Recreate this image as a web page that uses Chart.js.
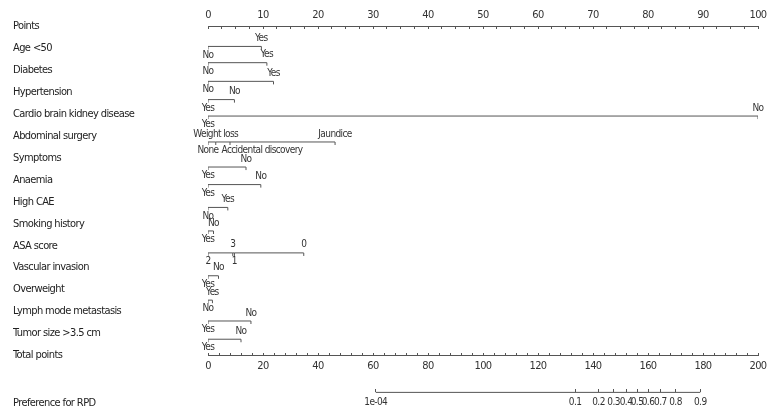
<!DOCTYPE html>
<html>
<head>
<meta charset="utf-8">
<script src="https://cdn.jsdelivr.net/npm/chart.js@4.4.1/dist/chart.umd.min.js"></script>
<style>
  body { margin: 0; background: #fff; }
</style>
</head>
<body>
<canvas id="nomo" width="780" height="420"></canvas>
<script>
const rowNames = [
  "Points", "Age <50", "Diabetes", "Hypertension", "Cardio brain kidney disease",
  "Abdominal surgery", "Symptoms", "Anaemia", "High CAE", "Smoking history",
  "ASA score", "Vascular invasion", "Overweight", "Lymph mode metastasis",
  "Tumor size >3.5 cm", "Total points", "Preference for RPD"
]

const pointsTicks = [0, 10, 20, 30, 40, 50, 60, 70, 80, 90, 100]
const totalTicks = [0, 20, 40, 60, 80, 100, 120, 140, 160, 180, 200]

// probability ticks and where they sit on the total points scale
const prefLabels = ["1e-04", "0.1", "0.2", "0.3", "0.4", "0.5", "0.6", "0.7", "0.8", "0.9"]
const prefTotal = [61, 133.5, 142, 147.5, 152, 156, 160, 164.5, 170, 179]

// one entry per drawn line, levels sorted by points
const levelNames = [
  ["No", "Yes"],
  ["No", "Yes"],
  ["No", "Yes"],
  ["Yes", "No"],
  ["Yes", "No"],
  ["None", "Weight loss", "Accidental discovery", "Jaundice"],
  ["Yes", "No"],
  ["Yes", "No"],
  ["No", "Yes"],
  ["Yes", "No"],
  ["2", "3", "1", "0"],
  ["Yes", "No"],
  ["No", "Yes"],
  ["Yes", "No"],
  ["Yes", "No"],
]
const levelPoints = [
  [0, 9.7],
  [0, 10.7],
  [0, 11.9],
  [0, 4.8],
  [0, 100],
  [0, 1.4, 4.0, 23.1],
  [0, 6.9],
  [0, 9.6],
  [0, 3.6],
  [0, 1.0],
  [0, 4.5, 4.8, 17.4],
  [0, 1.9],
  [0, 0.8],
  [0, 7.8],
  [0, 6.0],
]

// layout (in label rows)
const segmentRow = [0.93, 1.67, 2.52, 3.35, 4.1, 5.28, 6.42, 7.22, 8.26, 9.33, 10.33, 11.37, 12.48, 13.43, 14.26]
const labelRow = rowNames.map((n, i) => (i < 16 ? i : 17.15))
const totalRow = 15
const prefRow = 16.68

const font = "'Liberation Sans Narrow', 'DejaVu Sans Condensed', sans-serif"
const ink = "#333"
const lineColor = "#555"

Chart.defaults.font.family = font
Chart.defaults.color = ink

// small tick hanging below each level
let tickMark = document.createElement("canvas")
tickMark.width = 3
tickMark.height = 8
let tctx = tickMark.getContext("2d")
tctx.fillStyle = lineColor
tctx.fillRect(1, 4, 1, 3)

let datasets = levelPoints.map((vals, i) => ({
  data: vals.map((v) => ({ x: v, y: segmentRow[i] })),
  showLine: true,
  borderColor: lineColor,
  borderWidth: 1,
  pointStyle: tickMark,
  pointRadius: 2,
  xAxisID: "x",
  yAxisID: "y",
}))

datasets.push({
  data: [
    { x: prefTotal[0], y: prefRow },
    { x: prefTotal[prefTotal.length - 1], y: prefRow },
  ],
  showLine: true,
  borderColor: lineColor,
  borderWidth: 1,
  pointRadius: 0,
  xAxisID: "x2",
  yAxisID: "y",
})

// tighter text, the original uses a condensed face
const tightText = {
  id: "tightText",
  beforeDraw(chart) {
    chart.ctx.letterSpacing = "-0.6px"
  },
}

const levelLabels = {
  id: "levelLabels",
  afterDatasetsDraw(chart) {
    let ctx = chart.ctx
    ctx.save()
    ctx.letterSpacing = "-0.6px"
    ctx.font = "10px " + font
    ctx.fillStyle = ink
    ctx.textAlign = "center"
    ctx.textBaseline = "middle"
    levelNames.forEach((names, i) => {
      let meta = chart.getDatasetMeta(i)
      let lastRight = [-1e9, -1e9]
      meta.data.forEach((pt, j) => {
        let side = j % 2
        let dy = side === 0 ? 8.5 : -8
        let w = ctx.measureText(names[j]).width
        let x = pt.x
        if (x - w / 2 < lastRight[side] + 3) x = lastRight[side] + 3 + w / 2
        lastRight[side] = x + w / 2
        ctx.fillText(names[j], x, pt.y + dy)
      })
    })
    ctx.restore()
  },
}

function everyStep(max, step) {
  let out = []
  for (let v = 0; v <= max + 1e-9; v += step) out.push({ value: v })
  return out
}

let chart = new Chart(document.getElementById("nomo").getContext("2d"), {
  type: "scatter",
  data: { datasets: datasets },
  options: {
    responsive: false,
    animation: false,
    layout: {
      padding: { left: 13, right: 22, top: 8, bottom: 9 },
    },
    plugins: {
      legend: { display: false },
      tooltip: { enabled: false },
    },
    scales: {
      y: {
        type: "linear",
        reverse: true,
        min: 0,
        max: 17.5,
        position: "left",
        afterFit: (s) => {
          s.width = 195
        },
        afterBuildTicks: (s) => {
          s.ticks = labelRow.map((r) => ({ value: r }))
        },
        ticks: {
          autoSkip: false,
          crossAlign: "far",
          color: "#222",
          font: { size: 11 },
          callback: (v, i) => rowNames[i],
        },
        grid: { display: false },
        border: { display: false },
      },
      x: {
        type: "linear",
        position: "top",
        min: 0,
        max: 100,
        afterFit: (s) => {
          s.height = 18
        },
        afterBuildTicks: (s) => {
          s.ticks = everyStep(100, 2.5)
        },
        ticks: {
          autoSkip: false,
          maxRotation: 0,
          padding: 7,
          font: { size: 11 },
          callback: (v) => (pointsTicks.includes(v) ? v : ""),
        },
        grid: { drawOnChartArea: false, tickLength: -3, tickColor: lineColor },
        border: { display: true, color: lineColor, width: 1 },
      },
      x2: {
        type: "linear",
        position: { y: totalRow },
        min: 0,
        max: 200,
        afterBuildTicks: (s) => {
          s.ticks = everyStep(200, 4)
        },
        ticks: {
          autoSkip: false,
          maxRotation: 0,
          padding: 7.4,
          font: { size: 11 },
          callback: (v) => (totalTicks.includes(v) ? v : ""),
        },
        grid: { drawOnChartArea: false, tickLength: -3, tickColor: lineColor },
        border: { display: true, color: lineColor, width: 1 },
      },
      x3: {
        type: "linear",
        position: { y: prefRow },
        min: 0,
        max: 200,
        afterBuildTicks: (s) => {
          s.ticks = prefTotal.map((v) => ({ value: v }))
        },
        ticks: {
          autoSkip: false,
          maxRotation: 0,
          padding: 7.4,
          font: { size: 10 },
          callback: (v, i) => prefLabels[i],
        },
        grid: { drawOnChartArea: false, tickLength: -3, tickColor: lineColor },
        border: { display: false },
      },
    },
  },
  plugins: [tightText, levelLabels],
})
</script>
</body>
</html>
